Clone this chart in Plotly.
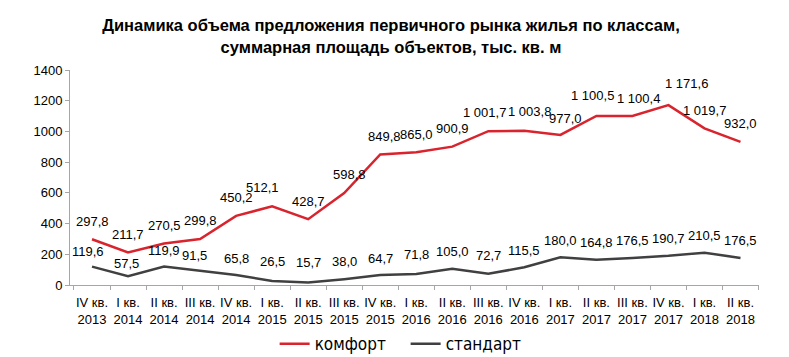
import plotly.graph_objects as go

categories = ["IV кв.<br>2013", "I кв.<br>2014", "II кв.<br>2014", "III кв.<br>2014", "IV кв.<br>2014",
              "I кв.<br>2015", "II кв.<br>2015", "III кв.<br>2015", "IV кв.<br>2015", "I кв.<br>2016",
              "II кв.<br>2016", "III кв.<br>2016", "IV кв.<br>2016", "I кв.<br>2017", "II кв.<br>2017",
              "III кв.<br>2017", "IV кв.<br>2017", "I кв.<br>2018", "II кв.<br>2018"]
komfort = [297.8, 211.7, 270.5, 299.8, 450.2, 512.1, 428.7, 598.8, 849.8, 865.0,
           900.9, 1001.7, 1003.8, 977.0, 1100.5, 1100.4, 1171.6, 1019.7, 932.0]
standart = [119.6, 57.5, 119.9, 91.5, 65.8, 26.5, 15.7, 38.0, 64.7, 71.8,
            105.0, 72.7, 115.5, 180.0, 164.8, 176.5, 190.7, 210.5, 176.5]

# label nudges (style only)
komfort_dx = [0, 0, 0, 0, 0, -10, 0, 5, 4, 0, 0, -4, 5, 5, -4, 6, 18, 0, 0]
komfort_dy = [18, 18, 18, 18, 18, 19, 18, 19, 18, 18, 18, 19, 19, 16, 20, 18, 22, 18, 18]
standart_dx = [-4, -2, 0, -6, 0, 0, 0, 0, 0, 0, 0, 0, 0, 0, 0, 0, 0, 0, 0]
standart_dy = [15, 13, 16, 15, 16, 19, 20, 18, 17, 19, 17, 18, 17, 17, 17, 17, 17, 17, 17]

def fmt(v):
    return f"{v:,.1f}".replace(",", " ").replace(".", ",")

fig = go.Figure()
fig.add_trace(go.Scatter(x=categories, y=komfort, mode="lines", name="комфорт",
                         line=dict(color="#D9232D", width=2.5)))
fig.add_trace(go.Scatter(x=categories, y=standart, mode="lines", name="стандарт",
                         line=dict(color="#404040", width=2.5)))

annotations = []
for c, v, dx, dy in zip(categories, komfort, komfort_dx, komfort_dy):
    annotations.append(dict(x=c, y=v, xref="x", yref="y", text=fmt(v), showarrow=False,
                            xshift=dx, yshift=dy, xanchor="center", yanchor="middle",
                            font=dict(size=13, color="#000000")))
for c, v, dx, dy in zip(categories, standart, standart_dx, standart_dy):
    annotations.append(dict(x=c, y=v, xref="x", yref="y", text=fmt(v), showarrow=False,
                            xshift=dx, yshift=dy, xanchor="center", yanchor="middle",
                            font=dict(size=13, color="#000000")))

fig.update_layout(
    width=789, height=357,
    margin=dict(l=62, r=38, t=62, b=80, autoexpand=False),
    paper_bgcolor="white", plot_bgcolor="white",
    font=dict(family="Liberation Sans, Arial, sans-serif", size=13, color="#000000"),
    title=dict(text="<b>Динамика объема предложения первичного рынка жилья по классам,<br>суммарная площадь объектов, тыс. кв. м</b>",
               x=0.4854, xanchor="center", y=0.935, yanchor="top",
               font=dict(size=16.5, color="#000000")),
    annotations=annotations,
    showlegend=True,
    legend=dict(orientation="h", x=0.297, xanchor="left", y=0.109, yanchor="top",
                yref="container", itemwidth=30, entrywidth=86, entrywidthmode="pixels",
                font=dict(family="DejaVu Sans Condensed, Liberation Sans, sans-serif", size=17)),
    xaxis=dict(type="category", showline=True, linecolor="#A6A6A6", ticks="outside",
               tickson="boundaries", ticklen=4, tickcolor="#A6A6A6", showgrid=False,
               tickangle=0, automargin=False, ticklabelstandoff=5,
               tickfont=dict(size=13)),
    yaxis=dict(range=[0, 1400], dtick=200, showline=True, linecolor="#A6A6A6", ticks="outside",
               ticklen=4, tickcolor="#A6A6A6", showgrid=False, zeroline=False,
               automargin=False, tickfont=dict(size=13)),
)
fig.write_html("out.html")
